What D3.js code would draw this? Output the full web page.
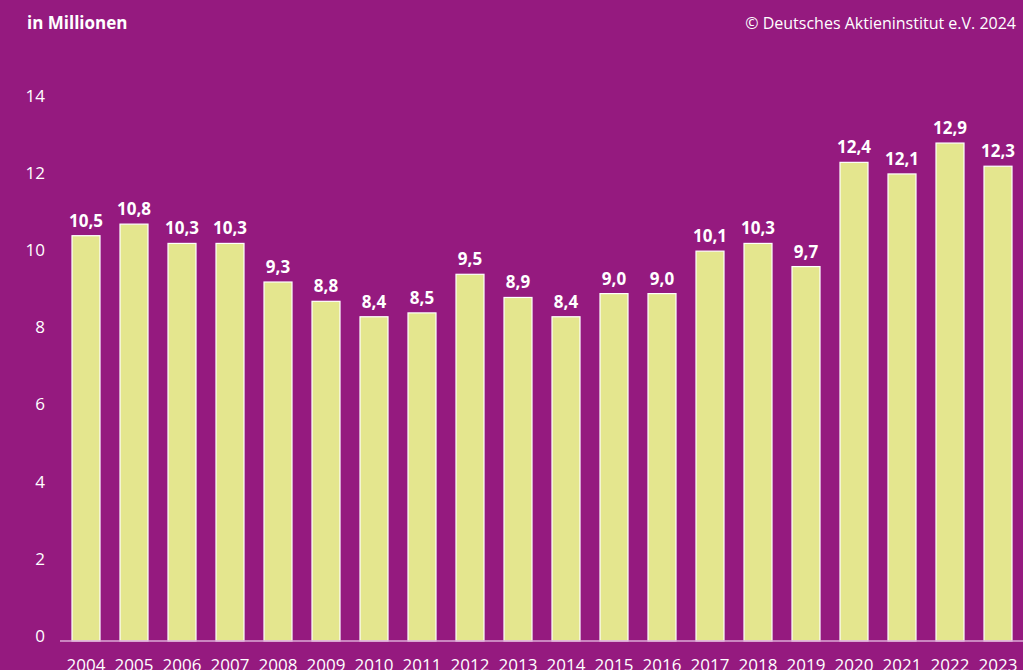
<!DOCTYPE html>
<html lang="de">
  <head>
    <meta charset="UTF-8" />
    <title>Aktionäre in Deutschland</title>
    <style>
      body {
        margin: 0;
        background-color: #951a7f;
        overflow: hidden;
      }
      svg {
        display: block;
        font-family: "Open Sans", sans-serif;
      }
      .tick-label {
        font-size: 17px;
        fill: #ffffff;
      }
      .value-label {
        font-size: 17px;
        font-weight: bold;
        fill: #ffffff;
      }
    </style>
  </head>
  <body>
    <svg></svg>
    <script src="https://d3js.org/d3.v7.min.js"></script>
    <script>
      const width = 1023,
        height = 670;

      const years = [
        "2004", "2005", "2006", "2007", "2008", "2009", "2010", "2011", "2012", "2013",
        "2014", "2015", "2016", "2017", "2018", "2019", "2020", "2021", "2022", "2023",
      ];
      const values = [
        10.5, 10.8, 10.3, 10.3, 9.3, 8.8, 8.4, 8.5, 9.5, 8.9,
        8.4, 9.0, 9.0, 10.1, 10.3, 9.7, 12.4, 12.1, 12.9, 12.3,
      ];
      const yTicks = [0, 2, 4, 6, 8, 10, 12, 14];

      const data = years.map((y, i) => ({ year: y, value: values[i] }));

      const svg = d3.select("svg").attr("width", width).attr("height", height);

      const baseY = 641;

      const x = d3
        .scaleBand()
        .domain(years)
        .range([62, 1022])
        .paddingInner(20 / 48)
        .paddingOuter(10 / 48);

      const y = d3.scaleLinear().domain([0, 14]).range([baseY, 100.6]);

      const fmt = (v) => d3.format(".1f")(v).replace(".", ",");

      // header texts
      svg
        .append("text")
        .attr("x", 27)
        .attr("y", 29)
        .attr("fill", "#fff")
        .attr("font-size", 17)
        .attr("font-weight", "bold")
        .text("in Millionen");

      svg
        .append("text")
        .attr("x", 1016)
        .attr("y", 29)
        .attr("text-anchor", "end")
        .attr("fill", "#fff")
        .attr("font-size", 16)
        .text("© Deutsches Aktieninstitut e.V. 2024");

      // y axis labels (no lines)
      svg
        .append("g")
        .selectAll("text")
        .data(yTicks)
        .join("text")
        .attr("class", "tick-label")
        .attr("x", 45)
        .attr("y", (d) => y(d) - 5)
        .attr("dy", "0.35em")
        .attr("text-anchor", "end")
        .text((d) => d);

      // bars
      svg
        .append("g")
        .selectAll("rect")
        .data(data)
        .join("rect")
        .attr("x", (d) => x(d.year))
        .attr("y", (d) => y(d.value))
        .attr("width", x.bandwidth())
        .attr("height", (d) => baseY - y(d.value))
        .attr("fill", "#e4e68e")
        .attr("stroke", "#ffffff")
        .attr("stroke-width", 1.2);

      // baseline
      svg
        .append("line")
        .attr("x1", 60)
        .attr("x2", width)
        .attr("y1", baseY)
        .attr("y2", baseY)
        .attr("stroke", "#dcaad6")
        .attr("stroke-width", 1.5);

      // value labels
      svg
        .append("g")
        .selectAll("text")
        .data(data)
        .join("text")
        .attr("class", "value-label")
        .attr("x", (d) => x(d.year) + x.bandwidth() / 2)
        .attr("y", (d) => y(d.value) - 9)
        .attr("text-anchor", "middle")
        .text((d) => fmt(d.value));

      // year labels
      svg
        .append("g")
        .selectAll("text")
        .data(years)
        .join("text")
        .attr("class", "tick-label")
        .attr("x", (d) => x(d) + x.bandwidth() / 2)
        .attr("y", 671)
        .attr("text-anchor", "middle")
        .text((d) => d);
    </script>
  </body>
</html>
